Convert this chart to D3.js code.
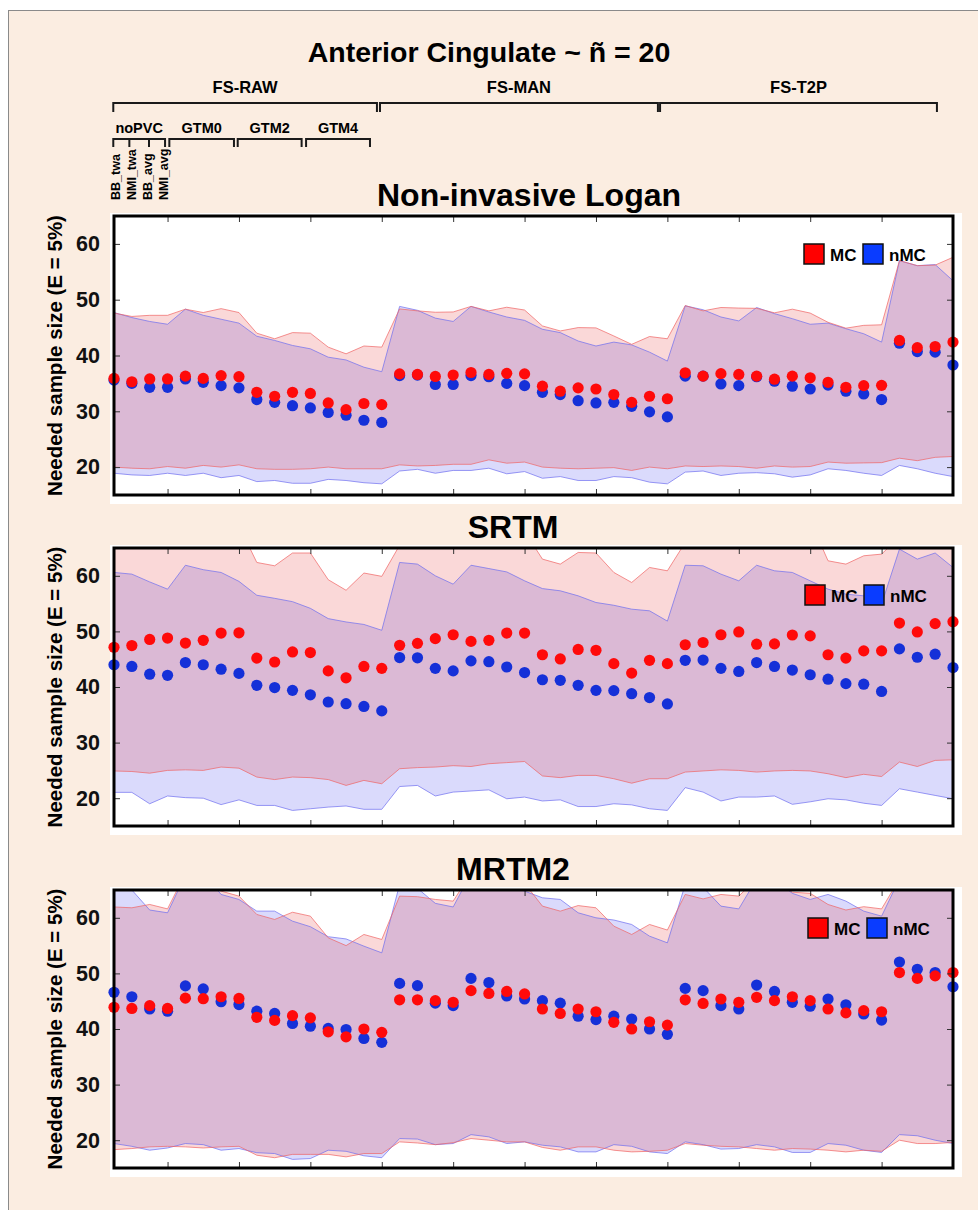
<!DOCTYPE html>
<html>
<head>
<meta charset="utf-8">
<script src="https://cdn.jsdelivr.net/npm/d3@7"></script>
<style>
  body { margin: 0; background: #fff; }
  text { font-family: "Liberation Sans", Arial, sans-serif; font-weight: bold; }
</style>
</head>
<body>
<div id="chart"></div>
<script>
// 48 conditions: 3 segmentations x (noPVC x4, GTM0 x4, GTM2 x4, GTM4 x4)
var nPoints = 48;
var yTicks = [20, 30, 40, 50, 60];
var xTicks = [3, 7, 11, 15, 19, 23, 27, 31, 35, 39, 43];

// Non-invasive Logan
var nilMC = [35.9,35.3,35.8,35.8,36.3,35.9,36.4,36.2,33.4,32.7,33.4,33.2,31.5,30.3,31.4,31.2,
  36.7,36.6,36.25,36.5,36.95,36.6,36.8,36.7,34.5,33.6,34.2,34.0,33.0,31.6,32.7,32.25,
  36.9,36.3,36.75,36.6,36.3,35.75,36.3,36.0,35.2,34.3,34.6,34.65,42.7,41.4,41.6,42.4];
var nilNMC = [35.6,35.0,34.3,34.3,35.8,35.2,34.6,34.2,32.1,31.6,31.0,30.6,29.8,29.3,28.4,28.0,
  36.4,36.5,34.8,34.8,36.4,36.2,35.0,34.6,33.4,33.0,31.9,31.5,31.6,30.9,29.9,29.0,
  36.3,36.3,34.9,34.6,36.2,35.4,34.5,34.0,34.7,33.6,33.1,32.1,42.2,40.7,40.6,38.3];
var nilMCHi = [47.6,47.0,47.2,47.2,48.3,47.7,48.4,47.7,44.0,43.0,44.1,44.0,41.5,40.3,41.7,41.5,
  48.35,48.0,47.75,47.8,48.8,48.0,48.65,48.15,45.3,44.4,45.0,44.95,43.5,42.0,43.4,43.0,
  48.95,48.0,48.6,48.5,48.45,47.65,48.3,47.6,45.95,44.9,45.4,45.5,57.0,56.1,56.2,57.6];
var nilNMCHi = [47.7,46.8,46.1,45.6,48.3,47.2,46.5,45.8,43.45,42.7,41.8,41.2,39.7,39.2,37.9,37.1,
  48.8,48.1,46.7,46.1,48.8,47.8,46.9,46.3,44.7,44.1,42.6,41.7,42.4,41.9,40.6,39.0,
  48.9,48.2,46.9,46.2,48.6,47.5,46.6,45.6,45.8,44.8,43.9,42.4,57.0,56.1,56.3,53.4];
var nilMCLo = [20.0,19.8,19.7,20.1,19.8,20.3,20.0,20.4,19.7,19.6,19.6,19.7,20.0,19.7,19.7,19.7,
  20.4,20.2,20.3,20.5,20.5,21.3,20.7,20.9,20.0,19.8,19.7,19.8,19.9,19.4,20.0,19.7,
  20.2,20.1,20.2,20.1,19.8,20.2,20.0,20.1,20.9,20.7,20.75,20.8,21.6,21.15,21.75,21.9];
var nilNMCLo = [18.9,18.6,18.5,18.9,18.5,18.9,18.1,18.5,17.4,17.6,17.1,17.1,17.8,17.6,17.2,17.0,
  19.3,19.6,18.9,19.4,19.4,19.8,18.8,19.2,18.0,18.3,17.6,17.6,18.3,18.1,17.3,17.0,
  19.1,19.3,18.5,18.9,19.0,18.8,18.2,18.6,19.7,19.4,18.9,18.5,20.3,19.7,18.9,18.3];

// SRTM
var srtmMC = [47.15,47.45,48.55,48.8,47.9,48.4,49.7,49.75,45.2,44.5,46.3,46.2,42.9,41.65,43.7,43.35,
  47.5,47.85,48.7,49.4,48.2,48.4,49.7,49.7,45.8,45.05,46.75,46.6,44.2,42.5,44.8,44.2,
  47.6,48.0,49.4,49.9,47.7,47.75,49.35,49.2,45.8,45.2,46.5,46.5,51.5,49.9,51.4,51.75];
var srtmNMC = [44.0,43.7,42.3,42.1,44.4,44.0,43.2,42.45,40.3,39.9,39.4,38.6,37.3,37.0,36.5,35.7,
  45.3,45.25,43.35,42.9,44.7,44.55,43.6,42.6,41.3,41.2,40.3,39.4,39.35,38.8,38.1,36.95,
  44.8,44.85,43.35,42.8,44.4,43.7,43.05,42.2,41.4,40.6,40.5,39.2,46.85,45.35,45.9,43.5];
var srtmMCHi = [68,68,68,68.5,69,68.5,68,69,62.4,61.8,64.1,64.1,59.3,57.4,60.5,59.9,
  65.5,67,67.5,68,68,68,68,68,63.0,62.1,64.2,64.1,60.6,58.8,61.5,60.9,
  66.0,67,68,68,68,68,68,70,62.7,62.1,63.6,63.9,67,68,68,67];
var srtmNMCHi = [60.6,60.3,58.9,57.6,61.9,61.1,60.6,59.0,56.5,55.95,55.35,54.15,52.3,51.7,51.25,50.2,
  62.4,62.1,60.0,58.5,61.9,61.3,60.7,59.1,57.7,57.3,56.4,55.2,54.7,54.0,53.7,51.85,
  61.9,61.8,60.3,59.1,61.9,60.9,60.6,59.1,57.6,56.7,56.4,54.9,64.8,63.0,64.1,61.5];
var srtmMCLo = [24.9,24.8,24.5,25.0,25.1,25.0,25.6,25.4,23.8,23.35,23.8,23.7,23.35,22.3,23.2,22.6,
  25.3,25.5,25.6,25.85,25.7,26.2,26.4,26.6,24.0,23.7,24.1,24.1,23.5,22.7,23.5,23.5,
  24.7,24.9,25.1,25.0,24.7,24.9,25.0,24.9,24.4,23.7,24.3,23.9,26.5,25.7,26.8,26.9];
var srtmNMCLo = [21.05,21.05,19.0,20.4,20.1,20.0,18.85,19.7,18.7,18.7,17.8,18.1,18.4,18.6,18.0,18.0,
  22.1,22.3,20.4,21.1,21.3,21.5,19.9,20.2,19.5,19.7,18.5,18.5,19.0,18.8,18.1,17.8,
  21.9,21.1,19.5,20.2,20.2,20.4,18.9,19.35,19.9,19.7,19.1,18.7,21.7,21.1,20.5,19.9];

// MRTM2
var mrtmMC = [43.9,43.7,44.2,43.7,45.55,45.45,45.8,45.5,42.1,41.55,42.4,42.0,39.5,38.6,40.0,39.4,
  45.25,45.25,45.1,44.8,46.9,46.4,46.75,46.3,43.6,42.8,43.6,43.1,41.2,40.0,41.3,40.7,
  45.25,44.6,45.4,44.8,45.7,45.1,45.8,45.1,43.6,42.9,43.3,43.1,50.15,49.1,49.55,50.15];
var mrtmNMC = [46.6,45.8,43.6,43.2,47.75,47.2,44.9,44.4,43.2,42.8,41.0,40.5,40.1,39.9,38.3,37.6,
  48.2,47.8,44.65,44.2,49.1,48.35,45.95,45.4,45.1,44.65,42.3,41.7,42.3,41.8,40.0,39.05,
  47.3,46.9,44.2,43.6,47.9,46.75,44.8,44.1,45.4,44.35,42.7,41.6,52.05,50.75,50.15,47.6];
var mrtmMCHi = [61.95,61.8,62.4,61.6,68,67,64.8,63.9,60.6,59.7,61.0,60.3,56.4,55.0,57.0,56.1,
  63.9,63.8,63.3,63.0,68,68,67,66.2,62.1,61.2,62.2,61.8,58.5,57.0,58.8,57.8,
  64.2,63.4,64.2,63.9,67,67,64.6,64.4,62.4,61.4,62.0,61.6,67,67,67,67];
var mrtmNMCHi = [67,65.0,61.4,60.9,67.7,68,64.2,63.3,61.2,61.2,59.4,58.4,56.6,56.2,54.9,53.7,
  66,65.3,62.6,61.95,68,67,66,64.8,63.6,63.3,60.9,60.0,59.6,58.8,56.7,55.5,
  66,65.5,62.1,61.6,67,67,64.4,63.3,64.2,63.0,61.2,60.3,67,67,67,67];
var mrtmMCLo = [18.3,18.5,18.8,18.9,18.8,18.6,18.8,18.9,17.3,16.85,17.45,17.45,17.45,17.0,17.6,17.6,
  19.7,19.5,19.2,19.55,20.3,20.0,19.7,19.7,18.7,18.2,18.8,18.8,18.2,17.9,18.0,18.2,
  19.4,19.1,18.9,18.8,18.5,18.2,18.5,18.4,18.2,17.9,18.2,18.0,20.0,19.4,19.4,19.6];
var mrtmNMCLo = [19.4,18.9,18.2,18.6,19.4,19.2,18.2,18.5,17.75,17.6,16.55,16.7,18.2,18.0,17.2,16.85,
  20.3,20.2,19.2,19.4,21.0,20.6,19.4,19.7,19.1,18.8,17.9,17.9,19.2,18.9,17.9,17.6,
  19.7,19.2,18.4,18.5,19.2,18.8,17.8,17.8,19.4,19.1,18.2,17.8,21.0,20.8,20.0,19.4];

// header brackets, in x-index units
var topGroups = [['FS-RAW', -0.04, 14.73], ['FS-MAN', 14.9, 30.47], ['FS-T2P', 30.59, 46.1]];
var subGroups = [['noPVC', -0.04, 2.86], ['GTM0', 3.1, 6.72], ['GTM2', 6.93, 10.51], ['GTM4', 10.76, 14.34]];
var noPvcDividers = [0.86, 1.96];
var methodLabels = ['BB_twa', 'NMI_twa', 'BB_avg', 'NMI_avg'];
var methodPos = [0.11, 0.99, 1.88, 2.76];

var panels = [
  {title: 'Non-invasive Logan', titleX: 529, top: 216, h: 279, legX: 804, legY: 244,
   mc: nilMC, nmc: nilNMC, mcHi: nilMCHi, mcLo: nilMCLo, nmcHi: nilNMCHi, nmcLo: nilNMCLo},
  {title: 'SRTM', titleX: 513, top: 548, h: 278, legX: 805, legY: 585,
   mc: srtmMC, nmc: srtmNMC, mcHi: srtmMCHi, mcLo: srtmMCLo, nmcHi: srtmNMCHi, nmcLo: srtmNMCLo},
  {title: 'MRTM2', titleX: 513, top: 890, h: 278, legX: 808, legY: 918,
   mc: mrtmMC, nmc: mrtmNMC, mcHi: mrtmMCHi, mcLo: mrtmMCLo, nmcHi: mrtmNMCHi, nmcLo: mrtmNMCLo}
];

var svgWidth = 978;
var svgHeight = 1210;
var left = 114, right = 953;

var svg = d3.select('#chart')
  .append('svg')
  .attr('width', svgWidth)
  .attr('height', svgHeight);

svg.append('rect')
  .attr('x', 8.5).attr('y', 10.5)
  .attr('width', svgWidth).attr('height', svgHeight)
  .attr('fill', '#fbede1')
  .attr('stroke', '#8a8a8a')
  .attr('stroke-width', 1);

svg.append('text')
  .attr('x', 489).attr('y', 62)
  .attr('text-anchor', 'middle')
  .attr('font-size', 28.5)
  .text('Anterior Cingulate ~ ñ = 20');

var x = d3.scaleLinear().domain([0, nPoints - 1]).range([left, right]);

// brackets
function bracket(g, x0, x1, y, drop) {
  g.append('path')
    .attr('d', `M${x0},${y + drop}V${y}H${x1}V${y + drop}`)
    .attr('fill', 'none')
    .attr('stroke', '#1a1a1a')
    .attr('stroke-width', 2);
}
var hdr = svg.append('g');
topGroups.forEach(function (d) {
  bracket(hdr, x(d[1]), x(d[2]), 103, 9);
  hdr.append('text')
    .attr('x', (x(d[1]) + x(d[2])) / 2).attr('y', 93)
    .attr('text-anchor', 'middle')
    .attr('font-size', 16.5)
    .text(d[0]);
});
subGroups.forEach(function (d) {
  bracket(hdr, x(d[1]), x(d[2]), 139, 8);
  hdr.append('text')
    .attr('x', (x(d[1]) + x(d[2])) / 2).attr('y', 133)
    .attr('text-anchor', 'middle')
    .attr('font-size', 14.5)
    .text(d[0]);
});
noPvcDividers.forEach(function (v) {
  hdr.append('line')
    .attr('x1', x(v)).attr('x2', x(v))
    .attr('y1', 139).attr('y2', 147)
    .attr('stroke', '#1a1a1a').attr('stroke-width', 2);
});
methodLabels.forEach(function (lab, i) {
  hdr.append('text')
    .attr('transform', `translate(${x(methodPos[i]) + 4.5},200) rotate(-90)`)
    .attr('font-size', 12.5)
    .text(lab);
});

var mcFill = 'rgba(225,10,10,0.16)';
var nmcFill = 'rgba(10,10,235,0.15)';

panels.forEach(function (p, pi) {
  var y = d3.scaleLinear().domain([15, 65]).range([p.top + p.h, p.top]);
  var g = svg.append('g');

  g.append('rect')
    .attr('x', 110).attr('y', p.top - 3)
    .attr('width', 852).attr('height', p.h + 12)
    .attr('fill', '#fff');

  g.append('text')
    .attr('x', p.titleX).attr('y', p.top - 10)
    .attr('text-anchor', 'middle')
    .attr('font-size', 32)
    .text(p.title);

  var clipId = 'clip' + pi;
  svg.append('clipPath').attr('id', clipId)
    .append('rect')
    .attr('x', left).attr('y', p.top)
    .attr('width', right - left).attr('height', p.h);

  var plot = g.append('g').attr('clip-path', `url(#${clipId})`);
  var idx = d3.range(nPoints);

  // nMC band first, MC band laid over it
  var bands = [
    {hi: p.nmcHi, lo: p.nmcLo, fill: nmcFill, line: 'rgba(110,110,240,0.7)'},
    {hi: p.mcHi, lo: p.mcLo, fill: mcFill, line: 'rgba(240,100,100,0.7)'}
  ];
  bands.forEach(function (b) {
    plot.append('path')
      .datum(idx)
      .attr('fill', b.fill)
      .attr('d', d3.area().x(i => x(i)).y0(i => y(b.lo[i])).y1(i => y(b.hi[i])));
  });
  bands.forEach(function (b) {
    [b.hi, b.lo].forEach(function (arr) {
      plot.append('path')
        .datum(idx)
        .attr('fill', 'none')
        .attr('stroke', b.line)
        .attr('stroke-width', 1)
        .attr('d', d3.line().x(i => x(i)).y(i => y(arr[i])));
    });
  });

  g.selectAll('.nmc' + pi).data(p.nmc).enter()
    .append('circle')
    .attr('cx', (d, i) => x(i))
    .attr('cy', d => y(d))
    .attr('r', 5.6)
    .attr('fill', '#1530d8');
  g.selectAll('.mc' + pi).data(p.mc).enter()
    .append('circle')
    .attr('cx', (d, i) => x(i))
    .attr('cy', d => y(d))
    .attr('r', 5.6)
    .attr('fill', '#ff0a0a');

  // inward ticks on all four sides
  var axL = g.append('g').attr('transform', `translate(${left},0)`)
    .call(d3.axisLeft(y).tickValues(yTicks).tickSizeInner(-6).tickSizeOuter(0).tickPadding(14));
  var axR = g.append('g').attr('transform', `translate(${right},0)`)
    .call(d3.axisRight(y).tickValues(yTicks).tickSizeInner(-6).tickSizeOuter(0).tickFormat(''));
  var axT = g.append('g').attr('transform', `translate(0,${p.top})`)
    .call(d3.axisTop(x).tickValues(xTicks).tickSizeInner(-6).tickSizeOuter(0).tickFormat(''));
  var axB = g.append('g').attr('transform', `translate(0,${p.top + p.h})`)
    .call(d3.axisBottom(x).tickValues(xTicks).tickSizeInner(-6).tickSizeOuter(0).tickFormat(''));
  [axL, axR, axT, axB].forEach(function (a) {
    a.select('.domain').remove();
    a.selectAll('line').attr('stroke', '#333');
    a.attr('font-family', null);
  });
  axL.selectAll('text')
    .attr('font-size', 21.5)
    .attr('fill', '#111')
    .attr('font-family', '"Liberation Sans", Arial, sans-serif')
    .attr('font-weight', 'bold');

  g.append('rect')
    .attr('x', left).attr('y', p.top)
    .attr('width', right - left).attr('height', p.h)
    .attr('fill', 'none')
    .attr('stroke', '#000')
    .attr('stroke-width', 3);

  g.append('text')
    .attr('transform', `translate(62,${p.top + p.h / 2}) rotate(-90)`)
    .attr('text-anchor', 'middle')
    .attr('font-size', 20.5)
    .text('Needed sample size (E = 5%)');

  // legend
  var leg = g.append('g').attr('transform', `translate(${p.legX},${p.legY})`);
  leg.append('rect').attr('x', 0).attr('y', 0).attr('width', 20).attr('height', 20)
    .attr('fill', '#ff0000').attr('stroke', '#111').attr('stroke-width', 1.5);
  leg.append('text').attr('x', 26).attr('y', 16.5).attr('font-size', 17).text('MC');
  leg.append('rect').attr('x', 59).attr('y', 0).attr('width', 20).attr('height', 20)
    .attr('fill', '#0a3cff').attr('stroke', '#111').attr('stroke-width', 1.5);
  leg.append('text').attr('x', 85).attr('y', 16.5).attr('font-size', 17).text('nMC');
});
</script>
</body>
</html>
